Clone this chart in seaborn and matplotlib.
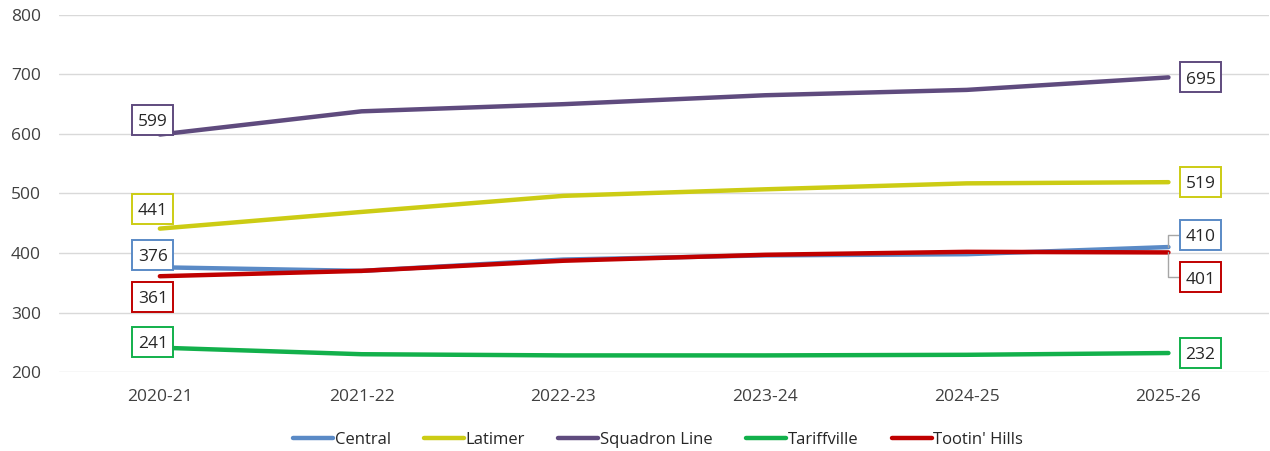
import pandas as pd
import seaborn as sns
import matplotlib.pyplot as plt
from matplotlib import transforms
from matplotlib.patches import Rectangle

years = ["2020-21", "2021-22", "2022-23", "2023-24", "2024-25", "2025-26"]
central = [376, 370, 389, 396, 398, 410]
latimer = [441, 469, 496, 507, 517, 519]
squadron = [599, 638, 650, 665, 674, 695]
tariffville = [241, 230, 228, 228, 229, 232]
tootin = [361, 370, 387, 397, 402, 401]

series = {
    "Central": central,
    "Latimer": latimer,
    "Squadron Line": squadron,
    "Tariffville": tariffville,
    "Tootin' Hills": tootin,
}
colors = {
    "Central": "#5A8AC6",
    "Latimer": "#CCCC14",
    "Squadron Line": "#5F4B7E",
    "Tariffville": "#12B04B",
    "Tootin' Hills": "#C00000",
}

rows = []
for name, vals in series.items():
    for i, v in enumerate(vals):
        rows.append({"Year": i, "Value": v, "Region": name})
df = pd.DataFrame(rows)

sns.set_style("white")
plt.rcParams["font.family"] = ["Open Sans", "DejaVu Sans"]

fig = plt.figure(figsize=(12.7, 4.51), dpi=100)
ax = fig.add_axes([59 / 1270, 0.175, 0.953, 0.792])

sns.lineplot(data=df, x="Year", y="Value", hue="Region", palette=colors,
             linewidth=3.2, ax=ax, legend=True)

ax.set_xlim(-0.5, 5.5)
ax.set_ylim(200, 800)
ax.set_yticks(range(200, 801, 100))
ax.set_xticks(range(len(years)))
ax.set_xticklabels(years)
ax.set_xlabel("")
ax.set_ylabel("")
ax.grid(axis="y", color="#D9D9D9", linewidth=1)
ax.set_axisbelow(True)
for s in ax.spines.values():
    s.set_visible(False)
ax.tick_params(axis="both", labelsize=12.5, colors="#404040", length=0)
ax.tick_params(axis="x", pad=12)
ax.tick_params(axis="y", pad=13)

# label box centre offsets from the data point, in pixels (right/up positive)
left_off = {
    "Central": (-7, 12),
    "Latimer": (-7, 20),
    "Squadron Line": (-7, 15),
    "Tariffville": (-7, 6),
    "Tootin' Hills": (-7, -21),
}
right_off = {
    "Central": (32, 12),
    "Latimer": (32, 0),
    "Squadron Line": (32, 0),
    "Tariffville": (32, 0),
    "Tootin' Hills": (32, -25),
}
BW, BH = 41, 30  # box size in pixels


def label(x, v, off, c):
    trans = fig.dpi_scale_trans + transforms.ScaledTranslation(x, v, ax.transData)
    cx, cy = off
    rect = Rectangle(((cx - BW / 2) / 100, (cy - BH / 2) / 100), BW / 100, BH / 100,
                     transform=trans, fc="white", ec=c, lw=1.4, zorder=5,
                     clip_on=False)
    ax.add_patch(rect)
    ax.annotate(str(v), (x, v), xytext=(cx * 0.72, cy * 0.72 - 4.4),
                textcoords="offset points", ha="center", va="baseline",
                fontsize=12.5, color="#262626", zorder=6)


for name, vals in series.items():
    label(0, vals[0], left_off[name], colors[name])
    label(5, vals[-1], right_off[name], colors[name])

# leader lines for the two close end labels
for name in ("Central", "Tootin' Hills"):
    v = series[name][-1]
    cx, cy = right_off[name]
    ax.annotate("", xy=(5, v), xytext=((cx - BW / 2) * 0.72, cy * 0.72),
                textcoords="offset points",
                arrowprops=dict(arrowstyle="-", color="#A6A6A6", lw=1,
                                connectionstyle="angle,angleA=180,angleB=90,rad=0",
                                shrinkA=0, shrinkB=0), zorder=4)

leg = ax.legend(loc="upper center", bbox_to_anchor=(0.495, -0.125), ncol=5,
                frameon=False, fontsize=12, handlelength=2.4,
                handletextpad=0.1, columnspacing=2.0)
for line in leg.get_lines():
    line.set_linewidth(3.2)

fig.savefig("out.png", dpi=100)
